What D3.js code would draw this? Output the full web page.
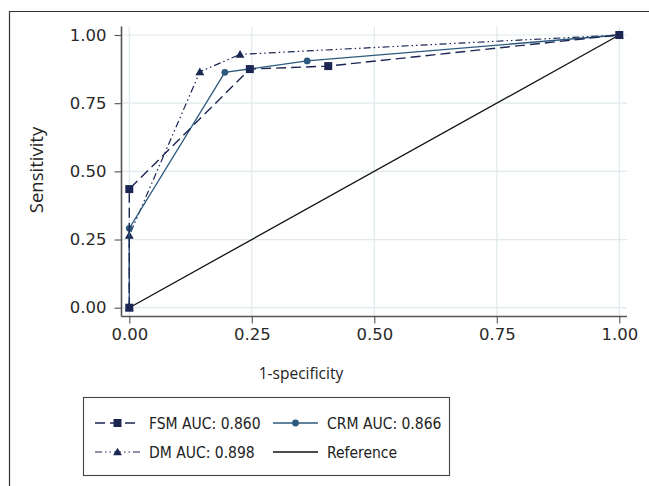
<!DOCTYPE html>
<html>
<head>
<meta charset="utf-8">
<script src="https://cdn.jsdelivr.net/npm/d3@7"></script>
<style>
  body { margin: 0; background: #fff; }
  svg { display: block; }
</style>
</head>
<body>
<div id="chart"></div>
<script>
// ROC curves, values
const xTicks = [0, 0.25, 0.5, 0.75, 1];
const yTicks = [0, 0.25, 0.5, 0.75, 1];

const fsmX = [0, 0, 0.246, 0.406, 1];
const fsmY = [0, 0.435, 0.875, 0.886, 1];
const crmX = [0, 0, 0.195, 0.363, 1];
const crmY = [0, 0.291, 0.863, 0.905, 1];
const dmX = [0, 0, 0.144, 0.226, 1];
const dmY = [0, 0.265, 0.865, 0.929, 1];
const refX = [0, 1];
const refY = [0, 1];

const legendLabels = ['FSM AUC: 0.860', 'CRM AUC: 0.866', 'DM AUC: 0.898', 'Reference'];

const W = 649, H = 486;
const navy = '#1c2653', steel = '#2c5a7e';

const series = [
    { name: legendLabels[0], xs: fsmX, ys: fsmY, color: navy, dash: '10,5', marker: 'square', width: 1.4 },
    { name: legendLabels[1], xs: crmX, ys: crmY, color: steel, dash: null, marker: 'circle', width: 1.3 },
    { name: legendLabels[2], xs: dmX, ys: dmY, color: navy, dash: '7,3,1.5,3,1.5,3', marker: 'triangle', width: 1.2 },
    { name: legendLabels[3], xs: refX, ys: refY, color: '#111', dash: null, marker: null, width: 1.3 }
];

const svg = d3.select('#chart').append('svg')
    .attr('width', W)
    .attr('height', H);

svg.append('rect').attr('width', W).attr('height', H).attr('fill', '#fff');

// outer frame (cropped on the right and bottom)
svg.append('path')
    .attr('d', `M9.5,${H + 2} V11.5 H${W + 2}`)
    .attr('fill', 'none')
    .attr('stroke', '#333')
    .attr('stroke-width', 1.2);

const x = d3.scaleLinear().domain([0, 1]).range([129.3, 619.3]);
const y = d3.scaleLinear().domain([0, 1]).range([307.7, 35]);

const plotL = 121.5, plotR = 627, plotT = 26.5, plotB = 316.5;

// grid
const grid = svg.append('g').attr('stroke', '#dfe9ec').attr('stroke-width', 1.2);
grid.selectAll('line.h').data(yTicks).join('line')
    .attr('x1', plotL).attr('x2', plotR)
    .attr('y1', d => y(d)).attr('y2', d => y(d));
grid.selectAll('line.v').data(xTicks).join('line')
    .attr('y1', plotT).attr('y2', plotB)
    .attr('x1', d => x(d)).attr('x2', d => x(d));

const tickFont = '"DejaVu Sans", sans-serif';
const titleFont = '"Open Sans", sans-serif';

// axes
const xAxis = svg.append('g')
    .attr('transform', `translate(0,${plotB})`)
    .call(d3.axisBottom(x).tickValues(xTicks).tickFormat(d3.format('.2f')).tickSize(7).tickSizeOuter(0).tickPadding(5));
const yAxis = svg.append('g')
    .attr('transform', `translate(${plotL},0)`)
    .call(d3.axisLeft(y).tickValues(yTicks).tickFormat(d3.format('.2f')).tickSize(7).tickSizeOuter(0).tickPadding(8));

[xAxis, yAxis].forEach(a => {
    a.select('.domain').attr('stroke', '#555').attr('stroke-width', 1.6);
    a.selectAll('.tick line').attr('stroke', '#555').attr('stroke-width', 1.1);
    a.selectAll('.tick text').attr('fill', '#2a2a2a').style('font-family', tickFont).style('font-size', '16.5px');
});
xAxis.select('.domain').attr('d', `M${plotL},0H${plotR}`);
yAxis.select('.domain').attr('d', `M0,${plotT}V${plotB}`);

// axis titles
svg.append('text')
    .attr('x', 301).attr('y', 379)
    .attr('text-anchor', 'middle')
    .style('font-family', titleFont).style('font-size', '15.5px').attr('fill', '#222')
    .text('1-specificity');
svg.append('text')
    .attr('transform', 'translate(43,170) rotate(-90)')
    .attr('text-anchor', 'middle')
    .style('font-family', titleFont).style('font-size', '18.5px').attr('fill', '#222')
    .text('Sensitivity');

function drawMarker(g, type, cx, cy, color) {
    if (type === 'square') {
        g.append('rect').attr('x', cx - 4).attr('y', cy - 4).attr('width', 8).attr('height', 8).attr('fill', color);
    } else if (type === 'circle') {
        g.append('circle').attr('cx', cx).attr('cy', cy).attr('r', 3.4).attr('fill', color);
    } else if (type === 'triangle') {
        g.append('path').attr('d', d3.symbol(d3.symbolTriangle, 34)()).attr('transform', `translate(${cx},${cy + 0.8})`).attr('fill', color);
    }
}

const line = d3.line().x(d => x(d[0])).y(d => y(d[1]));
const drawOrder = [3, 2, 1, 0];
drawOrder.forEach(i => {
    const s = series[i];
    const pts = s.xs.map((v, j) => [v, s.ys[j]]);
    const g = svg.append('g');
    g.append('path')
        .attr('d', line(pts))
        .attr('fill', 'none')
        .attr('stroke', s.color)
        .attr('stroke-width', s.width)
        .attr('stroke-dasharray', s.dash);
    if (s.marker) pts.forEach(p => drawMarker(g, s.marker, x(p[0]), y(p[1]), s.color));
});

// legend
const lg = svg.append('g');
lg.append('rect')
    .attr('x', 83.5).attr('y', 397.5).attr('width', 366).attr('height', 78)
    .attr('fill', '#fff').attr('stroke', '#444').attr('stroke-width', 1.1);

const legendFont = '"DejaVu Sans Condensed", "DejaVu Sans", sans-serif';
const legendPos = [[95, 423], [273, 423], [95, 452], [273, 452]];
series.forEach((s, i) => {
    const [lx, ly] = legendPos[i];
    const len = 45;
    lg.append('line')
        .attr('x1', lx).attr('x2', lx + len).attr('y1', ly).attr('y2', ly)
        .attr('stroke', s.color).attr('stroke-width', s.width)
        .attr('stroke-dasharray', s.dash);
    if (s.marker) drawMarker(lg, s.marker, lx + len / 2, ly, s.color);
    lg.append('text')
        .attr('x', lx + len + 9).attr('y', ly).attr('dy', '0.36em')
        .style('font-family', legendFont).style('font-size', '15.5px').attr('fill', '#222')
        .text(s.name);
});
</script>
</body>
</html>
